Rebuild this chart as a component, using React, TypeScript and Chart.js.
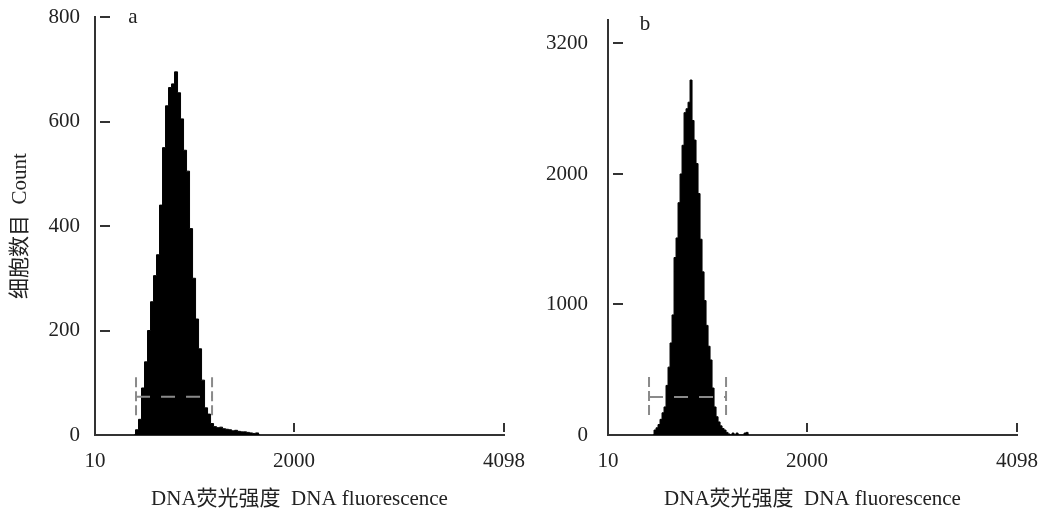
import React, { useEffect, useRef } from "react";
import { Chart, registerables } from "chart.js";

Chart.register(...registerables);

const FONT = "'Liberation Serif', 'Times New Roman', 'Noto Sans CJK SC', serif";
const TEXT_COLOR = "#222";
const AXIS_COLOR = "#333";
const GATE_COLOR = "#8a8a8a";

// shared x axis
const xTickValues = [10, 2000, 4098];
const xTickLabels = ["10", "2000", "4098"];
const xTitle = "DNA荧光强度  DNA fluorescence";
const yTitle = "细胞数目  Count";

// panel a
const aChannels = [400, 430, 460, 490, 520, 550, 580, 610, 640, 670, 700, 730, 760, 790, 820, 850, 880, 910, 940, 970, 1000, 1030, 1060, 1090, 1120, 1150, 1180, 1210, 1240, 1270, 1300, 1330, 1360, 1390, 1420, 1450, 1480, 1510, 1540, 1570, 1600, 1630, 1660];
const aCounts = [0, 10, 30, 90, 140, 200, 255, 305, 345, 440, 550, 630, 665, 672, 695, 655, 605, 545, 505, 395, 300, 222, 165, 105, 52, 40, 22, 16, 14, 15, 12, 11, 10, 8, 9, 7, 6, 6, 5, 4, 3, 4, 0];
const aYTickValues = [0, 200, 400, 600, 800];
const aYTickLabels = ["0", "200", "400", "600", "800"];
const aYMax = 800;
const aGateX = [420, 1180];
const aGateY = [38, 73, 115]; // bottom, marker line, top

// panel b
const bChannels = [460, 480, 500, 520, 540, 560, 580, 600, 620, 640, 660, 680, 700, 720, 740, 760, 780, 800, 820, 840, 860, 880, 900, 920, 940, 960, 980, 1000, 1020, 1040, 1060, 1080, 1100, 1120, 1140, 1160, 1180, 1200, 1220, 1240, 1260, 1280, 1300, 1320, 1340, 1360, 1380, 1400, 1420];
const bCounts = [0, 38, 55, 80, 120, 170, 215, 380, 520, 705, 920, 1360, 1510, 1780, 2000, 2220, 2470, 2500, 2550, 2720, 2410, 2260, 2080, 1850, 1500, 1250, 1030, 840, 680, 575, 360, 215, 140, 100, 70, 50, 38, 20, 8, 0, 15, 0, 15, 0, 0, 0, 15, 20, 0];
const bYTickValues = [0, 1000, 2000, 3000];
const bYTickLabels = ["0", "1000", "2000", "3200"];
const bYMax = 3180;
const bGateX = [420, 1190];
const bGateY = [153, 291, 460];

type Panel = {
  letter: string;
  channels: number[];
  counts: number[];
  yTickValues: number[];
  yTickLabels: string[];
  yMax: number;
  gateX: number[];
  gateY: number[];
  showYTitle: boolean;
  yWidth: number;
  padTop: number;
  padRight: number;
  yLabelPad: number;
  letterDx: number;
  letterDy: number;
};

const innerTicks = {
  id: "innerTicks",
  afterDraw(chart: any) {
    const { ctx, chartArea, scales } = chart;
    ctx.save();
    ctx.strokeStyle = AXIS_COLOR;
    ctx.lineWidth = 2;
    scales.y.ticks.forEach((t: any) => {
      if (t.value === 0) return;
      const y = Math.round(scales.y.getPixelForValue(t.value));
      ctx.beginPath();
      ctx.moveTo(chartArea.left + 5, y);
      ctx.lineTo(chartArea.left + 15, y);
      ctx.stroke();
    });
    scales.x.ticks.forEach((t: any, i: number) => {
      if (i === 0) return;
      const x = Math.round(scales.x.getPixelForValue(t.value));
      ctx.beginPath();
      ctx.moveTo(x, chartArea.bottom - 3);
      ctx.lineTo(x, chartArea.bottom - 12);
      ctx.stroke();
    });
    ctx.restore();
  },
};

const panelLetter = {
  id: "panelLetter",
  afterDraw(chart: any, _args: any, opts: any) {
    const { ctx, chartArea } = chart;
    ctx.save();
    ctx.fillStyle = TEXT_COLOR;
    ctx.font = `21px ${FONT}`;
    ctx.textAlign = "center";
    ctx.textBaseline = "alphabetic";
    ctx.fillText(opts.text, chartArea.left + opts.dx, chartArea.top + opts.dy);
    ctx.restore();
  },
};

function makeConfig(p: Panel): any {
  const font = { family: FONT, size: 21 };
  const hist = p.channels.map((c, i) => ({ x: c, y: p.counts[i] }));
  const gateStyle = { borderColor: GATE_COLOR, borderWidth: 2, pointRadius: 0, fill: false, order: 0 };
  return {
    type: "line",
    data: {
      datasets: [
        { ...gateStyle, borderDash: [10, 4], data: [{ x: p.gateX[0], y: p.gateY[0] }, { x: p.gateX[0], y: p.gateY[2] }] },
        { ...gateStyle, borderDash: [10, 4], data: [{ x: p.gateX[1], y: p.gateY[0] }, { x: p.gateX[1], y: p.gateY[2] }] },
        { ...gateStyle, borderDash: [14, 11], data: [{ x: p.gateX[0], y: p.gateY[1] }, { x: p.gateX[1], y: p.gateY[1] }] },
        {
          data: hist,
          stepped: "middle",
          fill: "origin",
          backgroundColor: "#000",
          borderColor: "#000",
          borderWidth: 1,
          pointRadius: 0,
          order: 5,
        },
      ],
    },
    options: {
      responsive: false,
      maintainAspectRatio: false,
      animation: false,
      events: [],
      layout: { padding: { top: p.padTop, right: p.padRight, left: 0, bottom: 0 } },
      plugins: {
        legend: { display: false },
        tooltip: { enabled: false },
        title: { display: false },
        panelLetter: { text: p.letter, dx: p.letterDx, dy: p.letterDy },
      },
      scales: {
        x: {
          type: "linear",
          min: 10,
          max: 4098,
          afterBuildTicks: (s: any) => {
            s.ticks = xTickValues.map((v) => ({ value: v }));
          },
          afterFit: (s: any) => {
            s.height = 77;
            s.paddingLeft = 0;
            s.paddingRight = 0;
          },
          ticks: {
            callback: (_v: any, i: number) => xTickLabels[i],
            font,
            color: TEXT_COLOR,
            padding: 14,
            maxRotation: 0,
            autoSkip: false,
          },
          grid: { display: false, drawTicks: false },
          border: { display: true, color: AXIS_COLOR, width: 2 },
          title: { display: true, text: xTitle, font, color: TEXT_COLOR, padding: { top: 0, bottom: 0 } },
        },
        y: {
          type: "linear",
          min: 0,
          max: p.yMax,
          afterBuildTicks: (s: any) => {
            s.ticks = p.yTickValues.map((v) => ({ value: v }));
          },
          afterFit: (s: any) => {
            s.width = p.yWidth;
            s.paddingTop = 0;
            s.paddingBottom = 0;
          },
          ticks: {
            callback: (_v: any, i: number) => p.yTickLabels[i],
            font,
            color: TEXT_COLOR,
            padding: p.yLabelPad,
            autoSkip: false,
          },
          grid: { display: false, drawTicks: false },
          border: { display: true, color: AXIS_COLOR, width: 2 },
          title: { display: p.showYTitle, text: yTitle, font, color: TEXT_COLOR, padding: { top: 8, bottom: 0 } },
        },
      },
    },
    plugins: [innerTicks, panelLetter],
  };
}

const panelA: Panel = {
  letter: "a",
  channels: aChannels,
  counts: aCounts,
  yTickValues: aYTickValues,
  yTickLabels: aYTickLabels,
  yMax: aYMax,
  gateX: aGateX,
  gateY: aGateY,
  showYTitle: true,
  yWidth: 95,
  padTop: 17,
  padRight: 36,
  yLabelPad: 15,
  letterDx: 38,
  letterDy: 6,
};

const panelB: Panel = {
  letter: "b",
  channels: bChannels,
  counts: bCounts,
  yTickValues: bYTickValues,
  yTickLabels: bYTickLabels,
  yMax: bYMax,
  gateX: bGateX,
  gateY: bGateY,
  showYTitle: false,
  yWidth: 78,
  padTop: 20,
  padRight: 43,
  yLabelPad: 20,
  letterDx: 37,
  letterDy: 10,
};

export default function App() {
  const aRef = useRef<HTMLCanvasElement>(null);
  const bRef = useRef<HTMLCanvasElement>(null);

  useEffect(() => {
    const ca = new Chart(aRef.current as HTMLCanvasElement, makeConfig(panelA));
    const cb = new Chart(bRef.current as HTMLCanvasElement, makeConfig(panelB));
    return () => {
      ca.destroy();
      cb.destroy();
    };
  }, []);

  return (
    <div style={{ position: "fixed", left: 0, top: 0, width: 1043, height: 512, background: "#fff", overflow: "hidden" }}>
      <canvas ref={aRef} width={540} height={512} style={{ position: "absolute", left: 0, top: 0, width: 540, height: 512 }} />
      <canvas ref={bRef} width={530} height={512} style={{ position: "absolute", left: 530, top: 0, width: 530, height: 512 }} />
    </div>
  );
}
